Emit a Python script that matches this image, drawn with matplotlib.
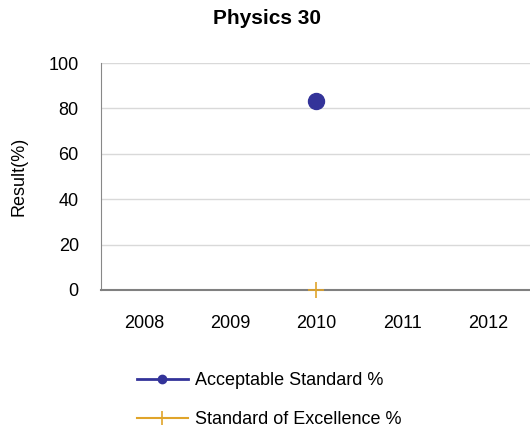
import matplotlib
matplotlib.use("Agg")
import matplotlib.pyplot as plt
from matplotlib.lines import Line2D
import numpy as np

plt.rcParams['font.family'] = ['Liberation Sans', 'DejaVu Sans']

years = ["2008", "2009", "2010", "2011", "2012"]
acceptable = [np.nan, np.nan, 83.3, np.nan, np.nan]
excellence = [np.nan, np.nan, 0.0, np.nan, np.nan]
yticks = [0, 20, 40, 60, 80, 100]

blue = "#333399"
gold = "#E0A42A"

fig = plt.figure(figsize=(5.30, 4.34), dpi=100)
ax = fig.add_axes([0.1906, 0.3318, 0.812, 0.523])
x = np.arange(len(years))
ax.plot(x, acceptable, color=blue, marker='o', markersize=11.5, linewidth=2, zorder=5, clip_on=False)
ax.plot(x, excellence, color=gold, marker='+', markersize=12, markeredgewidth=1.2, linewidth=1.5, zorder=5, clip_on=False)

ax.set_xlim(-0.5, len(years) - 0.5)
ax.set_ylim(0, 100)
ax.set_xticks(x)
ax.set_xticklabels(years)
ax.set_yticks(yticks)
ax.tick_params(axis='both', labelsize=13, length=0)
ax.tick_params(axis='y', pad=16)
ax.tick_params(axis='x', pad=18)
ax.grid(axis='y', color='#d9d9d9', linewidth=1)
ax.set_axisbelow(True)
for s in ['top', 'right']:
    ax.spines[s].set_visible(False)
ax.spines['left'].set_color('#888888')
ax.spines['bottom'].set_color('#808080')
ax.spines['bottom'].set_linewidth(1.5)
ax.set_ylabel("Result(%)", fontsize=13)
ax.yaxis.set_label_coords((28 - 101) / 430.0, 0.5)
fig.text(267 / 530, 1 - 18 / 434, "Physics 30", fontsize=15, fontweight='bold', ha='center', va='center')

handles = [
    Line2D([], [], color=blue, marker='o', markersize=6, linewidth=2),
    Line2D([], [], color=gold, marker='+', markersize=10, markeredgewidth=1.2, linewidth=1.5),
]
fig.legend(handles, ["Acceptable Standard %", "Standard of Excellence %"],
           loc='center left', bbox_to_anchor=(137 / 530, 1 - 400 / 434), frameon=False,
           borderpad=0, borderaxespad=0,
           fontsize=13, handlelength=2.8, handletextpad=0.4, labelspacing=1.2)

fig.savefig("out.png", dpi=100)
